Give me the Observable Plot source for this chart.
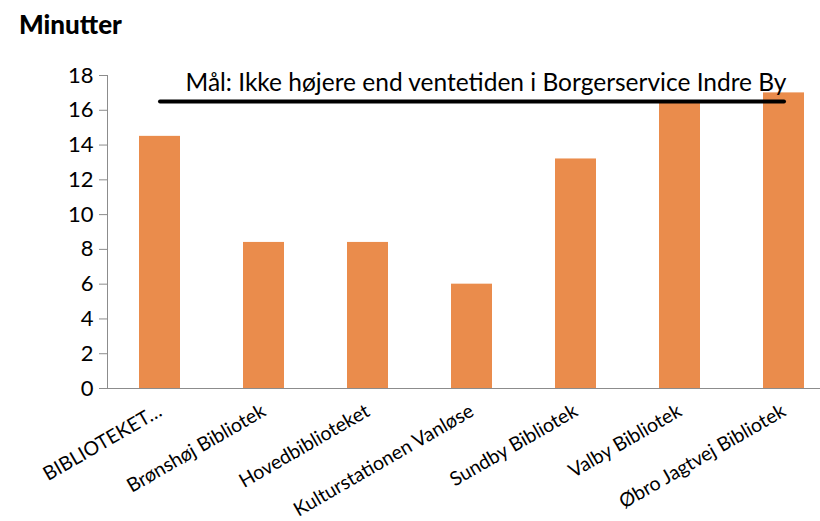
<!DOCTYPE html>
<html>
<head>
<meta charset="utf-8">
<script src="https://cdn.jsdelivr.net/npm/d3@7"></script>
<script src="https://cdn.jsdelivr.net/npm/@observablehq/plot@0.6"></script>
<style>
  html, body { margin: 0; padding: 0; background: #fff; overflow: hidden; }
  #wrap { position: relative; width: 820px; height: 521px; }
  #title { position: absolute; left: 19px; top: 8px; font-family: Lato, "Open Sans", sans-serif; font-weight: 900; font-size: 26px; color: #000; }
  #chart { position: absolute; left: 0; top: 0; }
</style>
</head>
<body>
<div id="wrap">
  <div id="chart"></div>
  <div id="title">Minutter</div>
</div>
<script>
const categories = ["BIBLIOTEKET…", "Brønshøj Bibliotek", "Hovedbiblioteket", "Kulturstationen Vanløse", "Sundby Bibliotek", "Valby Bibliotek", "Øbro Jagtvej Bibliotek"];
const minutes = [14.5, 8.4, 8.4, 6.0, 13.2, 16.5, 17.0];
const targetValue = 16.5;
const targetLabel = "Mål: Ikke højere end ventetiden i Borgerservice Indre By";
const yTicks = [0, 2, 4, 6, 8, 10, 12, 14, 16, 18];

const data = categories.map((c, i) => ({category: c, value: minutes[i]}));
const targetLine = [
  {category: categories[0], value: targetValue},
  {category: categories[categories.length - 1], value: targetValue}
];

const font = "Lato, 'Open Sans', sans-serif";

const chart = Plot.plot({
  width: 820,
  height: 521,
  marginTop: 75,
  marginBottom: 133,
  marginLeft: 107,
  marginRight: 0,
  style: {fontFamily: font, background: "transparent", overflow: "visible"},
  x: {domain: categories, range: [106, 837], paddingInner: 0.607, paddingOuter: 0.3035, label: null},
  y: {domain: [0, 18], label: null},
  marks: [
    Plot.barY(data, {x: "category", y: "value", fill: "#ea8c4c"}),
    Plot.frame({anchor: "left", stroke: "#8c8c8c"}),
    Plot.ruleY([0], {stroke: "#8c8c8c", strokeWidth: 1.2}),
    Plot.axisY({ticks: yTicks, tickSize: 8, tickPadding: 6, fontSize: 22, stroke: "#8c8c8c", color: "#000", label: null}),
    Plot.axisX({tickSize: 0, tickPadding: 21, tickRotate: -30, fontSize: 19.5, dx: 0, label: null}),
    Plot.line(targetLine, {x: "category", y: "value", stroke: "#000", strokeWidth: 4, strokeLinecap: "round"}),
    Plot.text([targetLabel], {x: () => categories[3], y: () => targetValue, text: d => d, dx: 14, dy: -11, lineAnchor: "bottom", fontSize: 24.5, fill: "#000"})
  ]
});
document.getElementById("chart").append(chart);
</script>
</body>
</html>
